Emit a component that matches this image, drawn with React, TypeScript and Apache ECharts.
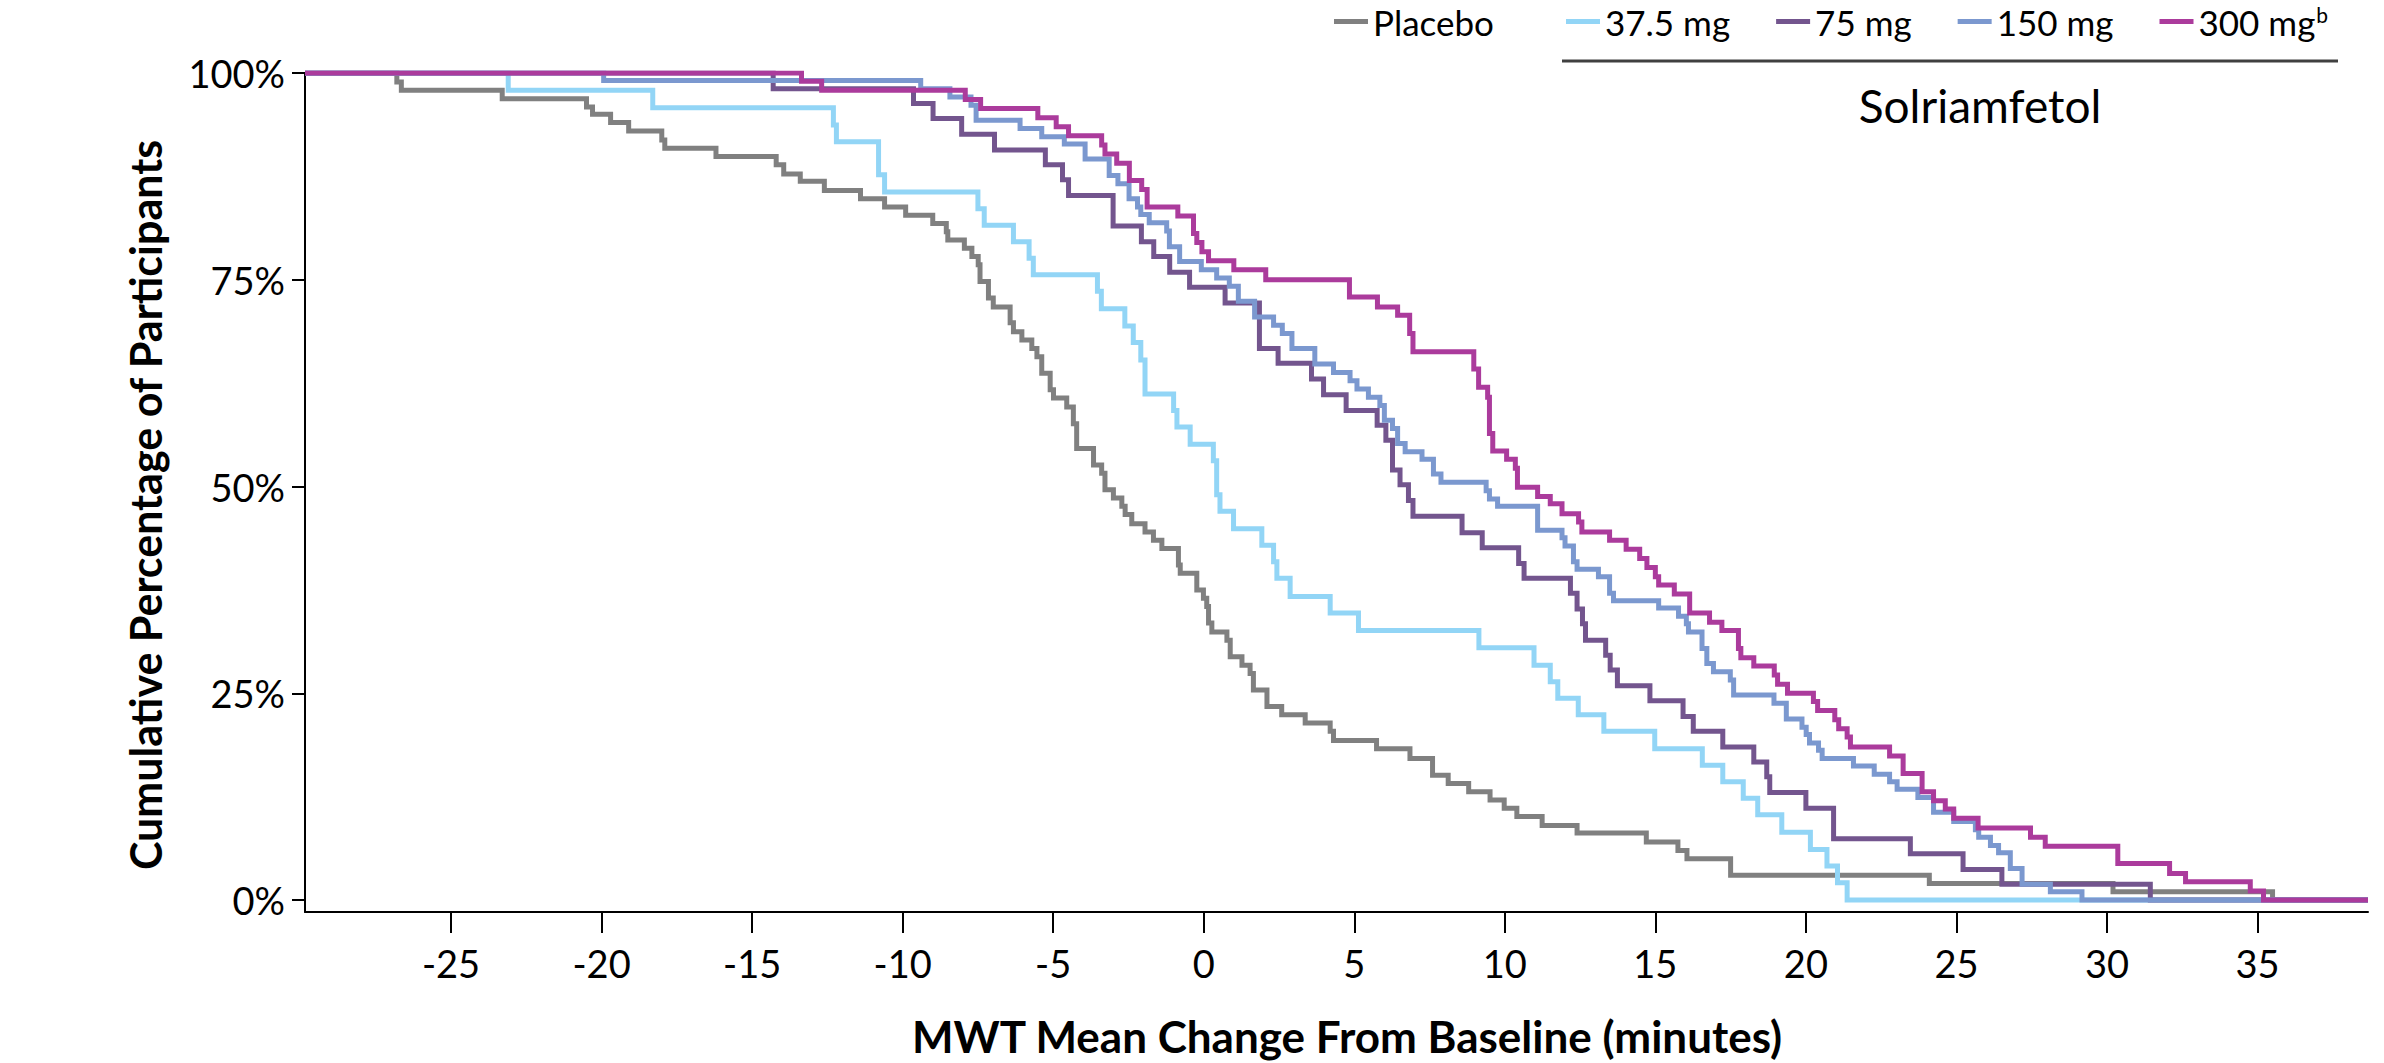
import React, { useEffect, useRef } from 'react';
import * as echarts from 'echarts';

const X_MIN = -29.85;
const X_MAX = 38.67;
const Y_MIN = -1.45;
const Y_MAX = 100;

const xTicks = [-25, -20, -15, -10, -5, 0, 5, 10, 15, 20, 25, 30, 35];
const yTicks = [0, 25, 50, 75, 100];

const seriesNames = ['Placebo', '37.5 mg', '75 mg', '150 mg', '300 mg'];
const seriesColors = ['#808080', '#92d5f6', '#73558e', '#7b98cf', '#ab3b9c'];

const placebo: [number, number][] = [
  [X_MIN, 100], [-26.8, 98.9], [-26.65, 97.9], [-23.3, 96.9], [-20.5, 95.9], [-20.3, 95.0], [-19.7, 94.0],
  [-19.1, 93.0], [-18.0, 91.9], [-17.9, 90.9], [-16.2, 89.9], [-14.2, 88.9], [-13.95, 87.8], [-13.4, 86.9],
  [-12.6, 85.8], [-11.4, 84.8], [-10.6, 83.8], [-9.9, 82.8], [-9.0, 81.8], [-8.55, 80.8], [-8.5, 79.8],
  [-7.95, 78.8], [-7.7, 77.8], [-7.49, 76.8], [-7.43, 74.8], [-7.15, 72.8], [-6.99, 71.7], [-6.43, 69.8],
  [-6.32, 68.7], [-6.04, 67.7], [-5.71, 66.7], [-5.54, 65.7], [-5.38, 63.7], [-5.1, 61.7], [-4.99, 60.7],
  [-4.55, 59.6], [-4.33, 57.6], [-4.22, 54.6], [-3.66, 52.6], [-3.39, 51.6], [-3.28, 49.6], [-3.0, 48.6],
  [-2.72, 47.6], [-2.61, 46.6], [-2.39, 45.5], [-1.95, 44.5], [-1.67, 43.5], [-1.39, 42.5], [-0.84, 40.5],
  [-0.78, 39.5], [-0.23, 37.5], [-0.01, 36.5], [0.1, 35.5], [0.16, 33.5], [0.27, 32.4], [0.77, 31.4],
  [0.88, 29.4], [1.27, 28.4], [1.54, 27.4], [1.65, 25.4], [2.1, 23.4], [2.59, 22.4], [3.37, 21.4],
  [4.2, 20.4], [4.31, 19.3], [5.74, 18.3], [6.85, 17.1], [7.6, 15.1], [8.12, 14.1], [8.8, 13.1],
  [9.51, 12.1], [9.98, 11.1], [10.4, 10.1], [11.24, 9.0], [12.4, 8.1], [14.7, 7.0], [15.75, 6.0],
  [16.05, 5.0], [17.5, 3.0], [24.1, 2.0], [30.2, 1.0], [35.5, 0], [X_MAX, 0],
];

const dose37: [number, number][] = [
  [X_MIN, 100], [-23.1, 97.9], [-18.3, 95.8], [-12.3, 93.7], [-12.2, 91.7], [-10.8, 87.7], [-10.6, 85.6],
  [-7.5, 83.6], [-7.29, 81.6], [-6.32, 79.6], [-5.8, 77.6], [-5.66, 75.6], [-3.53, 73.6], [-3.4, 71.5],
  [-2.62, 69.4], [-2.34, 67.4], [-2.09, 65.3], [-1.95, 61.2], [-1.0, 59.2], [-0.89, 57.2], [-0.45, 55.1],
  [0.32, 53.1], [0.43, 49.0], [0.54, 47.0], [0.99, 44.9], [1.93, 42.9], [2.32, 40.9], [2.43, 38.9],
  [2.87, 36.7], [4.2, 34.7], [5.14, 32.6], [9.14, 30.5], [10.97, 28.4], [11.51, 26.4], [11.76, 24.4],
  [12.44, 22.4], [13.29, 20.4], [14.98, 18.3], [16.56, 16.3], [17.24, 14.3], [17.92, 12.3], [18.4, 10.3],
  [19.2, 8.2], [20.15, 6.1], [20.7, 4.1], [21.05, 2.1], [21.37, 0], [X_MAX, 0],
];

const dose75: [number, number][] = [
  [X_MIN, 100], [-14.3, 98.1], [-9.64, 96.3], [-8.99, 94.5], [-8.04, 92.6], [-6.95, 90.7], [-5.26, 88.9],
  [-4.69, 87.1], [-4.49, 85.2], [-3.01, 81.5], [-2.07, 79.6], [-1.66, 77.8], [-1.13, 75.9], [-0.47, 74.1],
  [0.71, 72.2], [1.85, 66.7], [2.47, 64.9], [3.58, 63.0], [3.98, 61.1], [4.73, 59.2], [5.76, 57.4],
  [6.05, 55.6], [6.27, 52.0], [6.52, 50.2], [6.8, 48.3], [6.95, 46.4], [8.58, 44.4], [9.25, 42.6],
  [10.46, 40.7], [10.64, 38.9], [12.18, 37.1], [12.4, 35.2], [12.58, 33.4], [12.68, 31.4], [13.35, 29.6],
  [13.5, 27.8], [13.74, 25.9], [14.82, 24.1], [15.92, 22.2], [16.26, 20.4], [17.24, 18.5], [18.27, 16.7],
  [18.7, 14.9], [18.8, 13.0], [20.0, 11.1], [20.92, 7.4], [23.47, 5.6], [25.22, 3.7], [26.51, 1.9],
  [31.44, 0], [X_MAX, 0],
];

const dose150: [number, number][] = [
  [X_MIN, 100], [-19.93, 99.1], [-9.4, 98.1], [-8.43, 97.1], [-7.73, 96.1], [-7.56, 94.3], [-6.1, 93.3],
  [-5.38, 92.3], [-4.63, 91.4], [-3.94, 89.6], [-3.14, 87.6], [-2.85, 86.6], [-2.48, 84.8], [-2.2, 83.8],
  [-2.09, 82.9], [-1.81, 81.9], [-1.23, 80.9], [-1.14, 79.0], [-0.8, 77.2], [-0.08, 76.2], [0.43, 75.2],
  [0.85, 74.2], [1.15, 72.4], [1.69, 70.5], [2.32, 69.5], [2.61, 68.5], [2.93, 66.7], [3.69, 64.8],
  [4.31, 63.8], [4.86, 62.8], [5.09, 61.8], [5.47, 60.8], [5.85, 59.8], [6.0, 58.0], [6.27, 57.0],
  [6.44, 55.2], [6.69, 54.2], [7.25, 53.3], [7.63, 51.5], [7.88, 50.5], [9.38, 49.5], [9.49, 48.5],
  [9.76, 47.6], [11.09, 44.7], [11.9, 43.8], [12.0, 42.8], [12.28, 40.9], [12.4, 40.0], [13.11, 39.1],
  [13.48, 37.1], [13.61, 36.2], [15.11, 35.3], [15.77, 34.3], [16.03, 33.4], [16.1, 32.4], [16.55, 30.4],
  [16.71, 28.6], [16.93, 27.6], [17.49, 26.6], [17.6, 24.8], [18.94, 23.8], [19.35, 21.9], [19.87, 20.9],
  [20.01, 20.0], [20.12, 19.0], [20.42, 18.1], [20.54, 17.1], [21.58, 16.2], [22.27, 15.2], [22.78, 14.3],
  [23.03, 13.4], [23.72, 12.4], [24.24, 10.6], [24.91, 9.5], [25.63, 8.5], [25.74, 7.6], [26.13, 6.6],
  [26.4, 5.7], [26.79, 3.8], [27.18, 1.9], [28.12, 1.0], [29.17, 0], [X_MAX, 0],
];

const dose300: [number, number][] = [
  [X_MIN, 100], [-13.36, 99.0], [-12.69, 97.9], [-7.92, 96.8], [-7.41, 95.7], [-5.51, 94.6], [-4.9, 93.5],
  [-4.49, 92.4], [-3.39, 91.3], [-3.28, 90.2], [-2.89, 89.1], [-2.47, 87.0], [-2.06, 85.9], [-1.88, 83.8],
  [-0.86, 82.7], [-0.34, 80.6], [-0.23, 79.5], [-0.06, 78.4], [0.16, 77.3], [1.0, 76.2], [2.06, 75.0],
  [4.84, 72.9], [5.77, 71.7], [6.44, 70.7], [6.84, 68.5], [6.95, 66.3], [8.97, 64.2], [9.13, 62.0],
  [9.43, 60.8], [9.49, 56.4], [9.6, 54.3], [10.06, 53.3], [10.35, 52.2], [10.42, 49.9], [11.09, 48.8],
  [11.51, 47.9], [11.9, 46.7], [12.45, 45.7], [12.56, 44.5], [13.48, 43.5], [14.03, 42.4], [14.48, 41.3],
  [14.72, 40.2], [15.0, 39.1], [15.11, 38.1], [15.63, 37.0], [16.14, 34.7], [16.8, 33.6], [17.21, 32.6],
  [17.76, 30.4], [17.84, 29.3], [18.27, 28.3], [18.95, 27.2], [19.06, 26.1], [19.39, 25.0], [20.25, 24.0],
  [20.39, 22.9], [20.96, 21.8], [21.09, 20.7], [21.37, 19.7], [21.48, 18.5], [22.78, 17.4], [23.23, 15.3],
  [23.86, 13.1], [24.24, 12.0], [24.63, 11.0], [24.91, 9.9], [25.72, 8.7], [27.46, 7.6], [27.95, 6.5],
  [30.36, 4.4], [32.08, 3.2], [32.61, 2.2], [34.76, 1.1], [35.2, 0], [X_MAX, 0],
];

const seriesData = [placebo, dose37, dose75, dose150, dose300];

const FONT = 'Lato';

export default function App() {
  const ref = useRef<HTMLDivElement>(null);

  useEffect(() => {
    if (!ref.current) return;
    const chart = echarts.init(ref.current, null, { renderer: 'svg' });

    const legendText = { fontFamily: FONT, fontSize: 35, color: '#000' };

    const option: any = {
      animation: false,
      backgroundColor: '#ffffff',
      grid: { left: 305, right: 16, top: 73, bottom: 151, containLabel: false },
      legend: [
        {
          data: [seriesNames[0]],
          left: 1334,
          top: 0,
          padding: [4, 0, 0, 0],
          icon: 'rect',
          itemWidth: 34,
          itemHeight: 5,
          itemGap: 44,
          itemStyle: { borderWidth: 0 },
          selectedMode: false,
          textStyle: legendText,
        },
        {
          data: seriesNames.slice(1),
          left: 1566,
          top: 0,
          padding: [4, 0, 0, 0],
          icon: 'rect',
          itemWidth: 34,
          itemHeight: 5,
          itemGap: 46,
          itemStyle: { borderWidth: 0 },
          selectedMode: false,
          formatter: (name: string) => (name === '300 mg' ? '300 mg{sup|b}' : name),
          textStyle: {
            ...legendText,
            rich: {
              sup: { fontFamily: FONT, fontSize: 21, color: '#000', verticalAlign: 'top', padding: [0, 0, 13, 1] },
            },
          },
        },
      ],
      xAxis: {
        type: 'value',
        min: X_MIN,
        max: X_MAX,
        axisLine: { show: true, onZero: false, lineStyle: { color: '#000', width: 2 } },
        axisTick: { show: true, length: 21, lineStyle: { color: '#000', width: 2 }, customValues: xTicks },
        axisLabel: {
          customValues: xTicks,
          fontFamily: FONT,
          fontSize: 38,
          color: '#000',
          margin: 32,
        },
        splitLine: { show: false },
      },
      yAxis: {
        type: 'value',
        min: Y_MIN,
        max: Y_MAX,
        axisLine: { show: true, onZero: false, lineStyle: { color: '#000', width: 2 } },
        axisTick: { show: true, length: 13, lineStyle: { color: '#000', width: 2 }, customValues: yTicks },
        axisLabel: {
          customValues: yTicks,
          fontFamily: FONT,
          fontSize: 38,
          color: '#000',
          margin: 20,
          formatter: (v: number) => `${v}%`,
        },
        splitLine: { show: false },
      },
      series: seriesNames.map((name, i) => ({
        type: 'line',
        name,
        data: seriesData[i],
        step: 'end',
        symbol: 'none',
        silent: true,
        itemStyle: { color: seriesColors[i] },
        lineStyle: { color: seriesColors[i], width: 5, cap: 'butt', join: 'miter' },
        z: 2 + i,
      })),
      graphic: [
        {
          type: 'line',
          shape: { x1: 1562, y1: 61, x2: 2338, y2: 61 },
          style: { stroke: '#404040', lineWidth: 3 },
        },
        {
          type: 'text',
          x: 1980,
          y: 105,
          style: {
            text: 'Solriamfetol',
            font: `46px ${FONT}`,
            fill: '#000',
            align: 'center',
            verticalAlign: 'middle',
          },
        },
        {
          type: 'text',
          x: 145,
          y: 505,
          rotation: Math.PI / 2,
          style: {
            text: 'Cumulative Percentage of Participants',
            font: `bold 43px ${FONT}`,
            fill: '#000',
            align: 'center',
            verticalAlign: 'middle',
          },
        },
        {
          type: 'text',
          x: 1347,
          y: 1036,
          style: {
            text: 'MWT Mean Change From Baseline (minutes)',
            font: `bold 44px ${FONT}`,
            fill: '#000',
            align: 'center',
            verticalAlign: 'middle',
          },
        },
      ],
    };

    chart.setOption(option);
    return () => {
      chart.dispose();
    };
  }, []);

  return (
    <div
      ref={ref}
      style={{ position: 'absolute', left: 0, top: 0, width: 2384, height: 1063, background: '#fff' }}
    />
  );
}
